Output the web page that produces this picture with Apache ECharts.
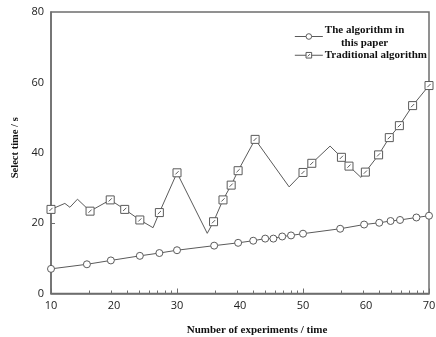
<!DOCTYPE html>
<html><head><meta charset="utf-8">
<script src="https://cdn.jsdelivr.net/npm/echarts@6/dist/echarts.min.js"></script>
<style>html,body{margin:0;padding:0;background:#fff}#c{width:436px;height:337px}</style>
</head><body><div id="c"></div>
<script>
// Data
var paperX = [10, 15.7, 19.5, 24.1, 27.2, 30.0, 35.9, 39.7, 42.1, 44.0, 45.3, 46.7, 48.1, 50.0, 55.9, 59.7, 62.1, 63.9, 65.4, 68.0, 70.0];
var paperY = [7.0, 8.3, 9.4, 10.7, 11.5, 12.3, 13.6, 14.4, 15.0, 15.6, 15.6, 16.2, 16.5, 17.0, 18.4, 19.6, 20.1, 20.6, 20.9, 21.6, 22.1];
var tradX = [10, 12.2, 13.0, 14.2, 16.2, 19.4, 21.7, 24.1, 26.2, 27.2, 30.0, 34.8, 35.8, 37.3, 38.6, 39.7, 42.4, 47.8, 50.0, 51.4, 54.3, 56.1, 57.3, 59.2, 59.9, 62.0, 63.7, 65.3, 67.4, 70.0];
var tradY = [23.9, 25.6, 24.5, 26.8, 23.4, 26.6, 23.9, 20.9, 18.7, 23.0, 34.3, 17.1, 20.4, 26.6, 30.8, 34.9, 43.8, 30.3, 34.4, 37.0, 41.9, 38.7, 36.2, 33.0, 34.5, 39.4, 44.3, 47.7, 53.4, 59.1];
// which traditional points carry a marker
var tradMarked = [1, 0, 0, 0, 1, 1, 1, 1, 0, 1, 1, 0, 1, 1, 1, 1, 1, 0, 1, 1, 0, 1, 1, 0, 1, 1, 1, 1, 1, 1];
var xLabels = [10, 20, 30, 40, 50, 60, 70];
var yLabels = [0, 20, 40, 60, 80];
var xMinorTicks = [16.02, 19.54, 22.04, 23.98, 25.56, 26.90, 28.06, 29.08,
                   36.02, 39.54, 42.04, 43.98, 45.56, 46.90, 48.06, 49.08,
                   56.02, 59.54, 62.04, 63.98, 65.56, 66.90, 68.06, 69.08];
var xMajorTicks = [10, 30, 50, 70];
var yTicks = [20];
var seriesNames = ['The algorithm in\nthis paper', 'Traditional algorithm'];

var sq = 'path://M0,0L10,0L10,10L0,10Z M3,7L7,3';
var paperData = paperX.map(function(x, i){ return [x, paperY[i]]; });
var tradData = tradX.map(function(x, i){
  return { value: [x, tradY[i]], symbolSize: tradMarked[i] ? 8 : 0 };
});
var lineCol = '#5a5a5a';
var axisCol = '#6e6e6e';
var serif = 'Liberation Serif';

var chart = echarts.init(document.getElementById('c'));
chart.setOption({
  animation: false,
  grid: { left: 51, right: 7, top: 12, bottom: 43.5, show: true, borderColor: axisCol, borderWidth: 1.5,
          containLabel: false, outerBoundsMode: 'none' },
  legend: {
    right: 4, top: 19, orient: 'vertical', itemGap: 0, itemWidth: 28, itemHeight: 7,
    data: seriesNames,
    lineStyle: { width: 1 },
    itemStyle: { borderWidth: 1 },
    formatter: function(name){
      return name.split('\n').map(function(s){ return '{c|' + s + '}'; }).join('\n');
    },
    textStyle: {
      fontFamily: serif, fontWeight: 'bold', fontSize: 11, color: '#111', lineHeight: 12.5, padding: [0,0,0,-3],
      rich: { c: { fontFamily: serif, fontWeight: 'bold', fontSize: 11, color: '#111', lineHeight: 12.5, align: 'center' } }
    }
  },
  xAxis: [{
    type: 'value', min: 10, max: 70, interval: 10,
    name: 'Number of experiments / time', nameLocation: 'middle', nameGap: 31,
    nameTextStyle: { fontFamily: serif, fontWeight: 'bold', fontSize: 11, color: '#111', padding: [0,0,0,34] },
    axisLine: { lineStyle: { color: axisCol, width: 1.5 } },
    axisTick: { inside: true, length: 3, customValues: xMinorTicks, lineStyle: { color: axisCol } },
    axisLabel: { customValues: xLabels, margin: 7, fontFamily: 'Open Sans', fontSize: 11, color: '#222' },
    splitLine: { show: false }
  }, {
    type: 'value', min: 10, max: 70, position: 'bottom',
    axisLine: { show: false },
    axisTick: { inside: true, length: 5, customValues: xMajorTicks, lineStyle: { color: axisCol } },
    axisLabel: { show: false }, splitLine: { show: false }
  }],
  yAxis: {
    type: 'value', min: 0, max: 80, interval: 20,
    name: 'Select time / s', nameLocation: 'middle', nameGap: 30, nameRotate: 90,
    nameTextStyle: { fontFamily: serif, fontWeight: 'bold', fontSize: 10.5, color: '#111', padding: [0,0,0,10] },
    axisLine: { show: true, lineStyle: { color: axisCol, width: 1.5 } },
    axisTick: { show: true, inside: true, length: 4, customValues: yTicks, lineStyle: { color: axisCol } },
    axisLabel: { customValues: yLabels, margin: 7, fontFamily: 'Open Sans', fontSize: 11, color: '#222' },
    splitLine: { show: false }
  },
  series: [{
    name: seriesNames[0], type: 'line', data: paperData,
    symbol: 'circle', symbolSize: 7, showAllSymbol: true,
    lineStyle: { color: lineCol, width: 1 },
    itemStyle: { color: '#fff', borderColor: lineCol, borderWidth: 1 }
  }, {
    name: seriesNames[1], type: 'line', data: tradData,
    symbol: sq, symbolSize: 8, showAllSymbol: true,
    lineStyle: { color: lineCol, width: 1 },
    itemStyle: { color: '#fff', borderColor: lineCol, borderWidth: 1 }
  }]
});
</script></body></html>
